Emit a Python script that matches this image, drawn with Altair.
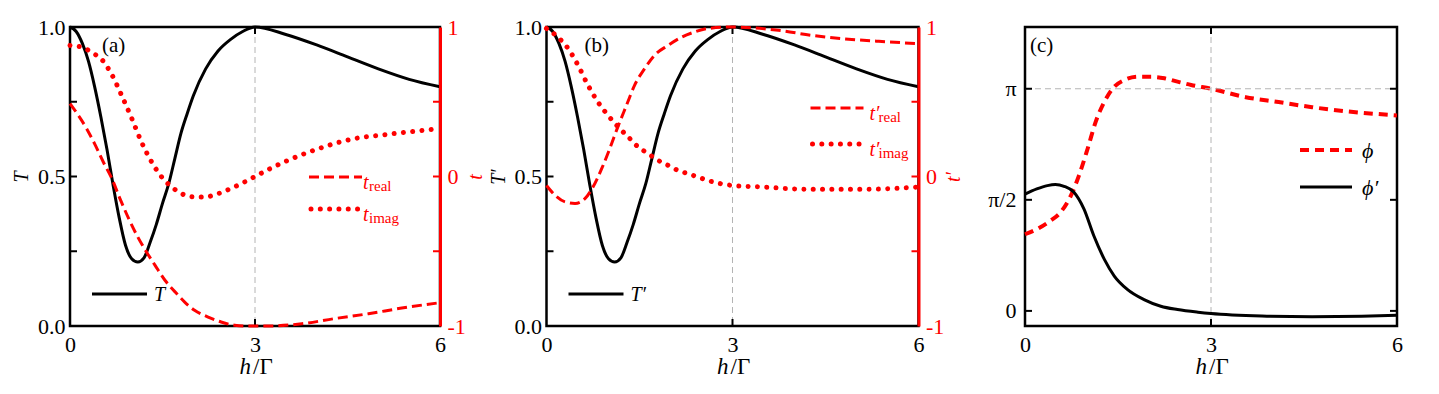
import altair as alt
import pandas as pd

SERIF = "Liberation Serif"
RED = "#ff0000"
GRID = "#b4b4b4"
W_A, W_B, W_C = 370, 372, 372
H = 299
FS = 22

# ---------------- data ----------------
# panel (a)
h_T = [0, 0.1, 0.2, 0.3, 0.4, 0.5, 0.6, 0.7, 0.8, 0.9, 1.0, 1.1, 1.2, 1.3, 1.4, 1.5, 1.6, 1.7,
       1.8, 1.9, 2.0, 2.2, 2.4, 2.6, 2.8, 3.0, 3.5, 4.0, 4.5, 5.0, 5.5, 6.0]
T_vals = [1.0, 0.985, 0.945, 0.885, 0.80, 0.70, 0.59, 0.47, 0.36, 0.27, 0.225, 0.214, 0.228, 0.28,
          0.34, 0.41, 0.475, 0.56, 0.645, 0.71, 0.77, 0.86, 0.92, 0.958, 0.985, 1.0, 0.975, 0.94,
          0.90, 0.86, 0.825, 0.80]
h_treal = [0, 0.27, 0.41, 0.54, 0.68, 0.81, 0.95, 1.08, 1.24, 1.38, 1.54, 1.70, 1.86, 2.02, 2.24,
           2.45, 2.67, 2.88, 3.2, 3.76, 4.3, 4.84, 5.38, 6.0]
t_real = [0.487, 0.32, 0.21, 0.097, -0.015, -0.148, -0.28, -0.39, -0.505, -0.594, -0.694, -0.77,
          -0.84, -0.895, -0.94, -0.973, -0.995, -1.0, -1.0, -0.985, -0.95, -0.918, -0.88, -0.844]
h_timag = [0, 0.19, 0.35, 0.52, 0.68, 0.84, 1.0, 1.16, 1.32, 1.48, 1.65, 1.81, 2.02, 2.18, 2.4,
           2.61, 2.83, 3.0, 3.49, 4.03, 4.57, 5.11, 6.0]
t_imag = [0.877, 0.866, 0.83, 0.78, 0.68, 0.54, 0.39, 0.23, 0.10, 0.0, -0.07, -0.115, -0.137,
          -0.137, -0.115, -0.08, -0.037, 0.0, 0.10, 0.186, 0.25, 0.28, 0.32]

# panel (b)
h_Tp = [0, 0.1, 0.2, 0.3, 0.4, 0.5, 0.6, 0.7, 0.8, 0.9, 1.0, 1.1, 1.2, 1.3, 1.4, 1.5, 1.6, 1.7,
        1.8, 1.9, 2.0, 2.2, 2.4, 2.6, 2.8, 3.0, 3.5, 4.0, 4.5, 5.0, 5.5, 6.0]
Tp_vals = [1.0, 0.985, 0.945, 0.885, 0.80, 0.70, 0.59, 0.47, 0.36, 0.27, 0.225, 0.214, 0.228, 0.28,
           0.34, 0.41, 0.475, 0.56, 0.645, 0.71, 0.77, 0.86, 0.92, 0.958, 0.985, 1.0, 0.975, 0.94,
           0.90, 0.86, 0.825, 0.80]
h_tpreal = [0, 0.14, 0.30, 0.46, 0.62, 0.75, 0.89, 1.02, 1.16, 1.29, 1.42, 1.58, 1.74, 1.96, 2.17,
            2.39, 2.6, 3.0, 3.74, 4.28, 4.82, 5.36, 6.0]
tp_real = [-0.06, -0.126, -0.17, -0.18, -0.148, -0.07, 0.052, 0.186, 0.342, 0.476, 0.61, 0.72,
           0.81, 0.877, 0.93, 0.967, 0.99, 1.0, 0.978, 0.944, 0.92, 0.904, 0.889]
h_tpimag = [0, 0.19, 0.35, 0.51, 0.67, 0.83, 0.99, 1.16, 1.32, 1.48, 1.64, 1.8, 1.96, 2.12, 2.28,
            2.44, 2.6, 3.0, 3.47, 4.28, 5.09, 6.0]
tp_imag = [0.99, 0.93, 0.855, 0.743, 0.61, 0.498, 0.41, 0.33, 0.264, 0.197, 0.153, 0.108, 0.075,
           0.041, 0.019, -0.003, -0.026, -0.06, -0.07, -0.086, -0.086, -0.07]

# panel (c)  (phase in units of pi)
h_phi = [0, 0.19, 0.41, 0.57, 0.74, 0.87, 1.01, 1.14, 1.28, 1.44, 1.6, 1.82, 2.03, 2.25, 2.46,
         2.68, 3.0, 3.56, 4.09, 4.63, 5.17, 6.0]
phi = [0.345, 0.368, 0.406, 0.443, 0.519, 0.609, 0.73, 0.851, 0.941, 1.009, 1.039, 1.054, 1.054,
       1.047, 1.032, 1.017, 1.0, 0.962, 0.94, 0.917, 0.899, 0.88]
h_phip = [0, 0.19, 0.36, 0.49, 0.63, 0.79, 0.95, 1.11, 1.28, 1.44, 1.65, 1.92, 2.19, 2.46, 2.79,
          3.0, 3.82, 4.63, 5.43, 6.0]
phi_p = [0.526, 0.549, 0.564, 0.569, 0.561, 0.534, 0.459, 0.338, 0.232, 0.157, 0.097, 0.051,
         0.021, 0.006, -0.006, -0.012, -0.023, -0.026, -0.024, -0.02]

x_ticks = [0, 3, 6]
T_ticks = [0, 0.5, 1]
t_ticks = [-1, 0, 1]
phi_ticks = [0, 0.5, 1]

ONE = pd.DataFrame({"a": [0]})


def xs():
    return alt.Scale(domain=[0, 6], nice=False, zero=False)


X_AXIS = alt.Axis(values=x_ticks, format="d", labelFont=SERIF, labelFontSize=FS,
                  labelColor="black", labelPadding=8, ticks=False, tickSize=0, domain=False,
                  grid=False, labelFlush=False, title=None)


def left_axis(title):
    return alt.Axis(values=T_ticks, format=".1f", labelFont=SERIF, labelFontSize=FS,
                    labelColor="black", labelPadding=5, ticks=False, tickSize=0, domain=False,
                    grid=False, labelFlush=False, title=title, titleFont=SERIF,
                    titleFontSize=20, titleFontStyle="italic", titleFontWeight="normal",
                    titleColor="black", titlePadding=6, orient="left")


def right_axis(title):
    return alt.Axis(values=t_ticks, labelExpr="'' + datum.value", labelFont=SERIF,
                    labelFontSize=FS, labelColor=RED, labelPadding=7, ticks=False, tickSize=0,
                    domain=True, domainColor=RED, domainWidth=3, grid=False, labelFlush=False,
                    title=title, titleFont=SERIF, titleFontSize=20, titleFontStyle="italic",
                    titleFontWeight="normal", titleColor=RED, titleAngle=270,
                    titleBaseline="top", titlePadding=0, orient="right", zindex=2)


C_AXIS = alt.Axis(values=phi_ticks,
                  labelExpr="datum.value == 0 ? '0' : (datum.value == 1 ? 'π' : 'π/2')",
                  labelFont=SERIF, labelFontSize=FS, labelColor="black", labelPadding=9,
                  ticks=False, tickSize=0, domain=False, grid=False, labelFlush=False,
                  title=None, orient="left")


def text(s, x, y, size=20, color="black", italic=False, align="left"):
    return alt.Chart(ONE).mark_text(text=s, font=SERIF, fontSize=size, color=color,
                                    fontStyle="italic" if italic else "normal", align=align,
                                    baseline="alphabetic").encode(x=alt.value(x), y=alt.value(y))


def seg(x1, x2, y, color, width, dash=None, cap="butt"):
    kw = dict(color=color, strokeWidth=width, strokeCap=cap)
    if dash:
        kw["strokeDash"] = dash
    return alt.Chart(ONE).mark_rule(**kw).encode(x=alt.value(x1), x2=alt.value(x2), y=alt.value(y))


def xtitle(W):
    return [text("h", W / 2 - 4, H + 48, size=23, italic=True, align="right"),
            text("/Γ", W / 2 - 2, H + 48, size=23, align="left")]


def xrule(y1, y2, color, width, dash=None):
    kw = dict(color=color, strokeWidth=width)
    if dash:
        kw["strokeDash"] = dash
    return alt.Chart(pd.DataFrame({"h": [3]})).mark_rule(**kw).encode(
        x=alt.X("h:Q", scale=xs(), axis=X_AXIS), y=alt.value(y1), y2=alt.value(y2))


def curve(h, v, color, width, yscale, yaxis, dash=None, cap="butt"):
    kw = dict(color=color, strokeWidth=width, strokeCap=cap, interpolate="monotone")
    if dash:
        kw["strokeDash"] = dash
    return alt.Chart(pd.DataFrame({"h": h, "v": v})).mark_line(**kw).encode(
        x=alt.X("h:Q", scale=xs(), axis=X_AXIS),
        y=alt.Y("v:Q", scale=yscale, axis=yaxis))


def yticks(vals, yscale, yaxis, x1, x2, color):
    return alt.Chart(pd.DataFrame({"v": vals})).mark_rule(color=color, strokeWidth=2).encode(
        y=alt.Y("v:Q", scale=yscale, axis=yaxis), x=alt.value(x1), x2=alt.value(x2))


def common(W, label, labx):
    grid = xrule(0, H, GRID, 1, [6, 4])
    return grid, [xrule(H - 7, H, "black", 2), xrule(0, 7, "black", 2),
                  text(label, labx, 25, size=21)] + xtitle(W)


DASH = [10, 5]
DOT = [0.01, 9.3]


def panel_ab(W, hT, Tv, hre, re, him, im, label, labx, Tname, tname, leg, anchor=False):
    ysL = alt.Scale(domain=[0, 1], nice=False, zero=False)
    ysR = alt.Scale(domain=[-1, 1], nice=False, zero=False)
    axL = left_axis(Tname)
    axR = right_axis(tname)
    grid, deco = common(W, label, labx)
    lineT = curve(hT, Tv, "black", 3, ysL, axL)
    tkL = yticks([0.25, 0.5, 0.75], ysL, axL, 0, 7, "black")
    lx, ly_re, ly_im, tx, sub, tlab = leg
    legend = [
        seg(22, 77, 267, "black", 3),
        text(Tname, 84, 274, size=20, italic=True),
        seg(lx, lx + 53, ly_re, RED, 3, DASH),
        text(tlab, tx, ly_re + 12, color=RED, italic=True),
        text("real", tx + sub, ly_re + 14, size=15, color=RED),
        seg(lx + 2, lx + 53, ly_im, RED, 5, DOT, "round"),
        text(tlab, tx, ly_im + 12, color=RED, italic=True),
        text("imag", tx + sub, ly_im + 14, size=15, color=RED),
    ]
    extra = []
    if anchor:
        extra.append(alt.Chart(ONE).mark_rule(opacity=0, strokeOpacity=0).encode(
            x=alt.value(-60), x2=alt.value(0), y=alt.value(-17)))
    left = alt.layer(lineT, grid, tkL, *deco, *legend, *extra)
    re_line = curve(hre, re, RED, 3, ysR, axR, dash=DASH)
    im_line = curve(him, im, RED, 5, ysR, axR, dash=DOT, cap="round")
    tkR = yticks([-0.5, 0, 0.5], ysR, axR, W - 7, W, RED)
    right = alt.layer(re_line, im_line, tkR)
    return alt.layer(left, right).resolve_scale(y="independent").properties(width=W, height=H)


pa = panel_ab(W_A, h_T, T_vals, h_treal, t_real, h_timag, t_imag, "(a)", 32, "T", "t",
              (239, 150, 182, 293, 6, "t"), anchor=True)
pb = panel_ab(W_B, h_Tp, Tp_vals, h_tpreal, tp_real, h_tpimag, tp_imag, "(b)", 38, "T′", "t′",
              (264, 81, 117, 323, 9, "t′"))

# panel (c)
ysC = alt.Scale(domain=[-0.068, 1.278], nice=False, zero=False)
gridC, decoC = common(W_C, "(c)", 5)
hgrid = alt.Chart(pd.DataFrame({"v": [1]})).mark_rule(
    color=GRID, strokeWidth=1, strokeDash=[6, 4]).encode(
    y=alt.Y("v:Q", scale=ysC, axis=C_AXIS), x=alt.value(0), x2=alt.value(W_C))
phi_line = curve(h_phi, phi, RED, 4, ysC, C_AXIS, dash=[9, 6])
phip_line = curve(h_phip, phi_p, "black", 3, ysC, C_AXIS)
tkCL = yticks(phi_ticks, ysC, C_AXIS, 0, 7, "black")
tkCR = yticks(phi_ticks, ysC, C_AXIS, W_C - 7, W_C, "black")
legC = [
    seg(275, 327, 123, RED, 4, [9, 6]),
    text("ϕ", 337, 131, size=22, italic=True, color="black"),
    seg(275, 327, 160, "black", 3),
    text("ϕ′", 337, 168, size=22, italic=True, color="black"),
]
pc = alt.layer(phi_line, gridC, hgrid, phip_line, tkCL, tkCR, *decoC, *legC).properties(
    width=W_C, height=H)

chart = alt.hconcat(pa, pb, pc, spacing=106.5, bounds="flush").properties(
    padding={"left": 0, "top": 0, "right": 5, "bottom": 5}
).configure(font=SERIF).configure_view(stroke="black", strokeWidth=2.5)

chart.save("out.html", embed_options={"renderer": "svg", "actions": False})
